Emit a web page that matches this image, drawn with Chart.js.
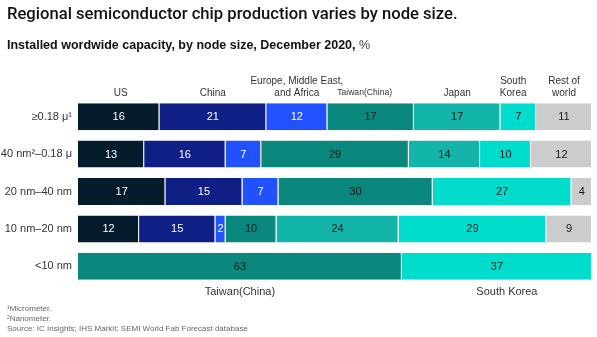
<!DOCTYPE html>
<html>
<head>
<meta charset="utf-8">
<script src="https://cdn.jsdelivr.net/npm/chart.js@4"></script>
<style>
  html, body { margin: 0; padding: 0; background: #fff; }
  #wrap { width: 597px; height: 337px; position: relative; }
</style>
</head>
<body>
<div id="wrap"><canvas id="chart"></canvas></div>
<script>
// Node-size rows (top to bottom)
const nodeSizes = ['≥0.18 μ¹', '40 nm²–0.18 μ', '20 nm–40 nm', '10 nm–20 nm', '<10 nm'];

// Share of installed capacity, % (null = no capacity shown)
const us          = [16, 13, 17, 12, null];
const china       = [21, 16, 15, 15, null];
const emea        = [12, 7, 7, 2, null];
const taiwan      = [17, 29, 30, 10, 63];
const japan       = [17, 14, null, 24, null];
const southKorea  = [7, 10, 27, 29, 37];
const restOfWorld = [11, 12, 4, 9, null];

const regionNames = ['US', 'China', 'Europe, Middle East, and Africa', 'Taiwan(China)', 'Japan', 'South Korea', 'Rest of world'];
const headerLines = [['US'], ['China'], ['Europe, Middle East,', 'and Africa'], ['Taiwan(China)'], ['Japan'], ['South', 'Korea'], ['Rest of', 'world']];
const bottomLabels = ['Taiwan(China)', 'South Korea'];

const TEXT = '#333333';
const FONT = '"Liberation Sans", Arial, sans-serif';

const series = [us, china, emea, taiwan, japan, southKorea, restOfWorld];
const colors = ['#051c2c', '#0f1f86', '#2251ff', '#0a887e', '#12b5a8', '#00dccc', '#cccccc'];
const labelColors = ['#ffffff', '#ffffff', '#ffffff', '#1a1a1a', '#1a1a1a', '#1a1a1a', '#1a1a1a'];
const headerFontSize = [10, 10, 10, 8.6, 10, 10, 10];
const headerNudge = [2, 0, 0, -6, 0, -5, 0];

// Each row is drawn as a full-width 100% bar
const rowTotals = nodeSizes.map((_, i) => series.reduce((s, arr) => s + (arr[i] || 0), 0));

const datasets = series.map((arr, k) => ({
  label: regionNames[k],
  data: arr.map((v, i) => v == null ? null : v / rowTotals[i] * 100),
  rawValues: arr,
  backgroundColor: colors[k],
  borderColor: 'rgba(255,255,255,0.55)',
  borderWidth: { top: 0, bottom: 0, left: 0, right: 1 },
  borderSkipped: false,
  barPercentage: 1,
  categoryPercentage: 0.722
}));

function fitFont(ctx, text, weight, family, targetWidth, base) {
  ctx.font = `${weight} ${base}px ${family}`;
  const w = ctx.measureText(text).width;
  return base * targetWidth / w;
}

const textPlugin = {
  id: 'textPlugin',
  afterDraw(chart) {
    const ctx = chart.ctx;
    ctx.save();

    // Title
    const title = 'Regional semiconductor chip production varies by node size.';
    const tSize = fitFont(ctx, title, 500, 'Roboto, ' + FONT, 451, 15);
    ctx.font = `500 ${tSize}px Roboto, ${FONT}`;
    ctx.fillStyle = '#111111';
    ctx.textBaseline = 'alphabetic';
    ctx.textAlign = 'left';
    ctx.fillText(title, 7, 18.5);

    // Subtitle
    const sub = 'Installed wordwide capacity, by node size, December 2020,';
    const sSize = fitFont(ctx, sub, 'bold', FONT, 349, 12);
    ctx.font = `bold ${sSize}px ${FONT}`;
    ctx.fillText(sub, 7, 48.5);
    const subW = ctx.measureText(sub + ' ').width;
    ctx.font = `normal ${sSize}px ${FONT}`;
    ctx.fillStyle = '#444444';
    ctx.fillText('%', 7 + subW, 48.5);

    // Region headers above the first row
    ctx.fillStyle = TEXT;
    ctx.textAlign = 'center';
    ctx.textBaseline = 'middle';
    chart.data.datasets.forEach((ds, k) => {
      const el = chart.getDatasetMeta(k).data[0];
      if (!el || ds.data[0] == null) return;
      const cx = (el.x + el.base) / 2 + headerNudge[k];
      ctx.font = `normal ${headerFontSize[k]}px ${FONT}`;
      const lines = headerLines[k];
      lines.forEach((ln, j) => {
        const y = 93 - (lines.length - 1 - j) * 11.5;
        ctx.fillText(ln, cx, y);
      });
    });

    // Value labels inside segments
    ctx.font = `normal 11px ${FONT}`;
    chart.data.datasets.forEach((ds, k) => {
      chart.getDatasetMeta(k).data.forEach((el, i) => {
        const v = ds.rawValues[i];
        if (v == null) return;
        ctx.fillStyle = labelColors[k];
        ctx.fillText(String(v), (el.x + el.base) / 2, el.y + 0.5);
      });
    });

    // Region names under the last row
    ctx.fillStyle = TEXT;
    ctx.font = `normal 11px ${FONT}`;
    const lastRow = nodeSizes.length - 1;
    const bottomSets = [3, 5];
    const bottomNudge = [0, 10];
    bottomSets.forEach((k, j) => {
      const el = chart.getDatasetMeta(k).data[lastRow];
      ctx.fillText(bottomLabels[j], (el.x + el.base) / 2 + bottomNudge[j], 292);
    });

    // Footnotes
    ctx.textAlign = 'left';
    ctx.fillStyle = '#666666';
    ctx.font = `normal 8px ${FONT}`;
    ctx.fillText('¹Micrometer.', 7, 309);
    ctx.fillText('²Nanometer.', 7, 319);
    ctx.fillText('Source: IC Insights; IHS Markit; SEMI World Fab Forecast database', 7, 329);

    ctx.restore();
  }
};

new Chart(document.getElementById('chart'), {
  type: 'bar',
  data: { labels: nodeSizes, datasets },
  options: {
    indexAxis: 'y',
    responsive: true,
    maintainAspectRatio: false,
    animation: false,
    layout: { padding: { top: 98, right: 5, bottom: 52, left: 0 } },
    plugins: { legend: { display: false }, tooltip: { enabled: false }, title: { display: false } },
    scales: {
      x: { stacked: true, min: 0, max: 100, display: false },
      y: {
        stacked: true,
        grid: { display: false, drawTicks: false },
        border: { display: false },
        ticks: { color: TEXT, font: { family: FONT, size: 11 }, padding: 6 },
        afterFit(scale) { scale.width = 78; }
      }
    }
  },
  plugins: [textPlugin]
});
</script>
</body>
</html>
